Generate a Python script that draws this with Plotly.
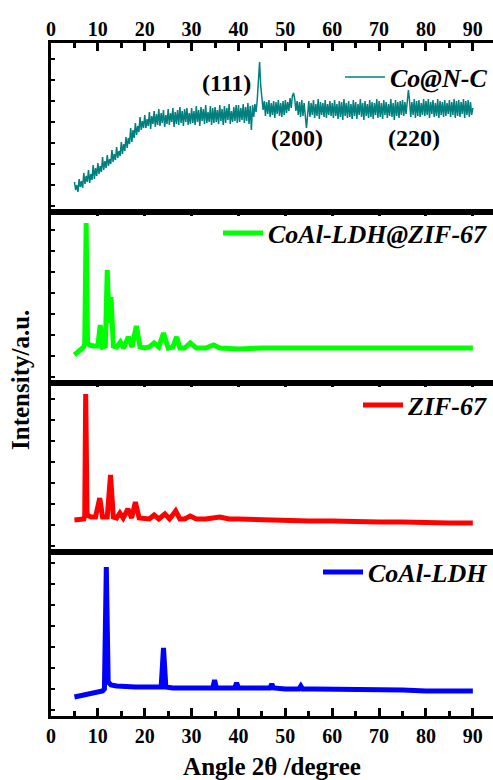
import plotly.graph_objects as go

# ---------------- data ----------------
conc_x = [5.0 + 0.25 * i for i in range(341)]
conc_y = [
    30, 22, 27, 20, 33, 25, 31, 24, 39, 28, 36, 30, 42, 29, 38, 32, 47, 33, 44, 36,
    49, 38, 46, 40, 55, 42, 51, 44, 57, 46, 53, 48, 62, 50, 58, 52, 65, 54, 61, 56,
    70, 58, 68, 61, 75, 64, 74, 68, 84, 70, 82, 74, 89, 77, 86, 80, 95, 82, 91, 84,
    97, 84, 93, 86, 100, 83, 96, 88, 101, 85, 98, 87, 103, 86, 99, 89, 102, 85, 97, 88,
    103, 87, 99, 90, 104, 85, 100, 88, 102, 87, 105, 89, 101, 86, 103, 90, 104, 87, 99, 88,
    104, 89, 101, 87, 106, 90, 102, 86, 105, 91, 103, 88, 107, 89, 100, 90, 106, 87, 104, 89,
    105, 90, 102, 88, 107, 91, 103, 87, 106, 89, 104, 92, 108, 88, 101, 90, 105, 91, 107, 89,
    107, 90, 104, 92, 108, 89, 105, 91, 109, 88, 106, 82, 107, 95, 108, 100, 112, 128, 150, 126,
    114, 102, 111, 96, 110, 98, 112, 95, 109, 97, 111, 94, 110, 98, 112, 96, 109, 95, 111, 97,
    112, 99, 110, 101, 114, 104, 116, 119, 113, 101, 111, 97, 110, 95, 112, 96, 109, 94, 84, 97,
    111, 95, 109, 97, 112, 94, 108, 96, 113, 93, 110, 97, 109, 95, 112, 94, 108, 97, 111, 96,
    109, 94, 112, 96, 108, 93, 111, 95, 110, 92, 113, 96, 109, 94, 111, 95, 108, 93, 112, 96,
    110, 93, 108, 97, 113, 95, 109, 92, 111, 96, 108, 94, 112, 95, 110, 93, 109, 97, 113, 94,
    111, 95, 109, 93, 112, 97, 110, 94, 108, 96, 113, 95, 109, 92, 112, 96, 110, 94, 111, 97,
    112, 96, 110, 98, 113, 122, 111, 95, 110, 97, 113, 94, 111, 96, 112, 95, 109, 97, 113, 96,
    111, 97, 113, 94, 110, 98, 112, 95, 109, 96, 113, 94, 111, 97, 110, 95, 112, 96, 109, 98,
    112, 95, 110, 97, 113, 94, 111, 96, 112, 95, 110, 98, 113, 94, 111, 97, 112, 95, 110, 97,
    104,
]

ldhzif_x = [5, 5.5, 6, 6.5, 7, 7.2, 7.5, 7.8, 8.2, 9, 10, 10.5, 11, 11.6, 12.0, 12.4,
            12.8, 13.3, 14, 14.8, 15.5, 16.5, 17.3, 18.2, 19, 20, 21, 22, 23, 24, 25,
            26, 26.8, 27.5, 28.5, 29.7, 31, 33, 34.7, 36, 40, 45, 50, 55, 60, 65, 70,
            75, 80, 85, 90]
ldhzif_y = [28, 30, 32, 34, 36, 40, 160, 40, 38, 37, 37, 58, 36, 37, 113, 60,
            86, 37, 36, 41, 35, 46, 36, 57, 36, 35, 36, 40, 36, 50, 35,
            36, 46, 35, 35, 40, 35, 35, 38, 35, 34, 35, 35, 34, 35, 34, 35,
            34, 35, 34, 35]

zif_x = [5, 6, 7, 7.2, 7.4, 7.7, 8.5, 9.5, 10.4, 11, 12, 12.7, 13.3, 14, 14.7, 15.4,
         16.4, 17.2, 18.0, 18.8, 20, 21, 22, 23, 24.3, 25.3, 26.6, 27.5, 28.5, 29.7,
         31, 33, 36, 38, 40, 45, 50, 55, 60, 65, 70, 75, 80, 85, 90]
zif_y = [32, 32, 33, 36, 158, 37, 35, 35, 54, 35, 35, 77, 35, 34, 39, 34,
         43, 34, 50, 34, 33, 33, 37, 33, 38, 33, 41, 33, 33, 36,
         33, 33, 35, 33, 33, 32, 32, 31, 31, 30, 30, 30, 29, 29, 29]

ldh_x = [5, 6, 7, 8, 9, 10, 11, 11.4, 11.8, 12.2, 12.8, 14, 16, 18, 20, 22, 23.5, 24.0,
         24.5, 26, 28, 30, 32, 34.5, 34.9, 35.3, 37, 39.2, 39.6, 40.0, 42, 44, 46.7,
         47.1, 47.5, 50, 52.9, 53.3, 53.7, 56, 60, 65, 70, 75, 80, 85, 90]
ldh_y = [19, 20, 21, 22, 23, 24, 25, 27, 149, 34, 31, 30, 29, 29, 29, 29, 29, 68,
         29, 28, 28, 28, 28, 28, 36, 28, 28, 28, 33, 28, 28, 28, 28,
         32, 28, 27, 27, 30, 27, 27, 27, 26, 26, 26, 25, 25, 25]

series_names = ["Co@N-C", "CoAl-LDH@ZIF-67", "ZIF-67", "CoAl-LDH"]
peak_labels = ["(111)", "(200)", "(220)"]
peak_label_x = [37.5, 52.5, 77.5]
peak_label_y = [129, 74, 74]

x_ticks = [0, 10, 20, 30, 40, 50, 60, 70, 80, 90]

# ---------------- figure ----------------
FONT = "Liberation Serif"
W, H = 493, 780
top, bottom = 43, 716
bounds = [43, 212, 383, 552, 716]
ph = bottom - top
L = 51

def dom(i):
    y0 = (bottom - bounds[i + 1]) / ph
    y1 = (bottom - bounds[i]) / ph
    return [y0, y1]

heights = [bounds[i + 1] - bounds[i] for i in range(4)]

fig = go.Figure()
colors = ["#007f7f", "#00ff00", "#ff0000", "#0000ff"]
widths = [1.5, 5, 5, 5]
xs = [conc_x, ldhzif_x, zif_x, ldh_x]
ys = [conc_y, ldhzif_y, zif_y, ldh_y]

for i in range(4):
    sfx = "" if i == 0 else str(i + 1)
    fig.add_trace(go.Scatter(
        x=xs[i], y=ys[i], mode="lines", name=series_names[i],
        line=dict(color=colors[i], width=widths[i]),
        xaxis="x" + sfx, yaxis="y" + sfx,
        legend="legend" + sfx, showlegend=True,
    ))

legend_y = [(bottom - 77) / ph, (bottom - 233) / ph, (bottom - 405) / ph, (bottom - 572) / ph]

layout = dict(
    width=W, height=H,
    margin=dict(l=L, r=0, t=top, b=H - bottom),
    paper_bgcolor="white", plot_bgcolor="white",
    font=dict(family=FONT, size=20, color="black"),
)

for i in range(4):
    sfx = "" if i == 0 else str(i + 1)
    xa = dict(
        domain=[0, 1], range=[0, 94.3], anchor="y" + sfx,
        showline=True, linewidth=3.2, linecolor="black", mirror=True,
        showgrid=False, zeroline=False,
        tickvals=x_ticks, ticks="inside", tickwidth=2.5,
        ticklen=8 if i in (0, 3) else 4, tickcolor="black",
        minor=dict(ticks="inside", dtick=5, tick0=0, ticklen=5 if i in (0, 3) else 3,
                   tickwidth=2.5, tickcolor="black", showgrid=False),
        showticklabels=i in (0, 3),
        tickfont=dict(family=FONT, size=20, color="black", weight="bold"),
        side="top" if i < 3 else "bottom",
    )
    if i == 0:
        xa["ticklabelstandoff"] = -4
    if i > 0:
        xa["matches"] = "x"
    if i == 3:
        xa["title"] = dict(text="Angle 2θ /degree", standoff=12,
                           font=dict(family=FONT, size=25, color="black", weight="bold"))
    layout["xaxis" + sfx] = xa
    layout["yaxis" + sfx] = dict(
        domain=dom(i), range=[0, heights[i]], anchor="x" + sfx,
        showline=True, linewidth=3.2, linecolor="black", mirror=False,
        showgrid=False, zeroline=False, showticklabels=False,
        ticks="inside", ticklen=4, tickwidth=2, tickcolor="black",
        tick0=6, dtick=21,
    )
    layout["legend" + sfx] = dict(
        x=1.0, xanchor="right", y=legend_y[i], yanchor="middle",
        bgcolor="rgba(0,0,0,0)", borderwidth=0,
        font=dict(family=FONT, size=26, color="black", weight="bold", style="italic"),
        itemwidth=40,
    )

fig.update_layout(**layout)

for t, px, py in zip(peak_labels, peak_label_x, peak_label_y):
    fig.add_annotation(x=px, y=py, xref="x", yref="y", text=t, showarrow=False,
                       font=dict(family=FONT, size=24, color="black", weight="bold"))

fig.add_annotation(x=(20 - L) / (W - L), y=(bottom - 380) / ph, xref="paper", yref="paper",
                   xanchor="center", yanchor="middle",
                   text="Intensity/a.u.", textangle=-90, showarrow=False,
                   font=dict(family=FONT, size=25, color="black", weight="bold"))

fig.write_html("out.html", config={"displayModeBar": False},
               post_script="document.body.style.margin='0';document.body.style.overflow='hidden';")
